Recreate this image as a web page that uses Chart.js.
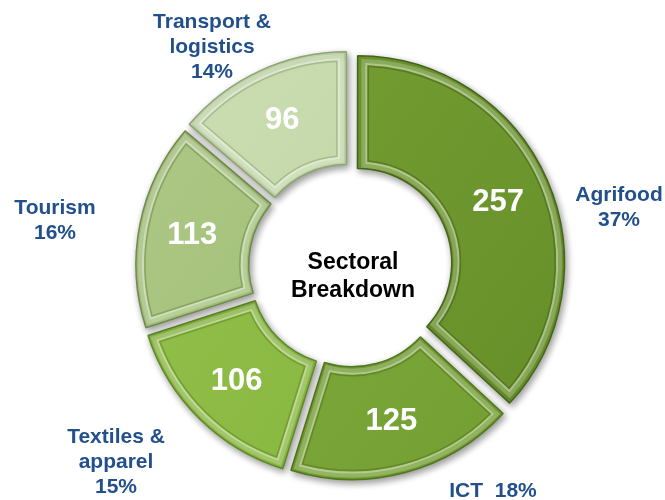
<!DOCTYPE html>
<html>
<head>
<meta charset="utf-8">
<title>Sectoral Breakdown</title>
<script src="https://cdn.jsdelivr.net/npm/chart.js@4"></script>
<style>
    html, body { margin: 0; padding: 0; background: #fff; }
    #wrap { width: 665px; height: 500px; }
</style>
</head>
<body>
<div id="wrap"><canvas id="myChart" width="665" height="500"></canvas></div>
<script>
"use strict";
// Data
const sectors = ["Agrifood", "ICT", "Textiles & apparel", "Tourism", "Transport & logistics"];
const counts = [257, 125, 106, 113, 96];
const shares = ["37%", "18%", "15%", "16%", "14%"];

// colours (light top, dark bottom, rim)
const lightColors = ['#7aa536', '#86b240', '#98c650', '#b2cd8b', '#d0e2ba'];
const darkColors = ['#628a27', '#6f9a30', '#80af38', '#95b46a', '#b5cc96'];
const rimColors = ['#45631a', '#52761f', '#5f8924', '#6f8b4a', '#8ca672'];

const FONT = '"Liberation Sans", Arial, sans-serif';

// outer label text blocks [lines, x, y]
const outerLabels = [
    [["Agrifood", "37%"], 619, 195],
    [["ICT  18%"], 493, 491],
    [["Textiles &", "apparel", "15%"], 116, 437],
    [["Tourism", "16%"], 55, 208],
    [["Transport &", "logistics", "14%"], 212, 22]
];

function arcShift(arc) {
    const p = arc.getProps(['startAngle', 'endAngle', 'circumference']);
    const off = (arc.options.offset || 0) / 4;
    const fix = 1 - Math.sin(Math.min(Math.PI, p.circumference || 0));
    const mid = (p.startAngle + p.endAngle) / 2;
    const d = off * (1 + fix);
    return { dx: Math.cos(mid) * d, dy: Math.sin(mid) * d, mid: mid, d: d };
}

function insetPath(ctx, a, inset) {
    const ro = a.outerRadius - inset;
    const ri = a.innerRadius + inset;
    ctx.beginPath();
    ctx.arc(a.x, a.y, ro, a.startAngle + inset / ro, a.endAngle - inset / ro);
    ctx.arc(a.x, a.y, ri, a.endAngle - inset / ri, a.startAngle + inset / ri, true);
    ctx.closePath();
}

// shadow + bevel + texts
const bevelPlugin = {
    id: 'bevel',
    beforeDatasetsDraw(chart) {
        const ctx = chart.ctx;
        ctx.save();
        ctx.shadowColor = 'rgba(0,0,0,0.4)';
        ctx.shadowBlur = 7;
        ctx.shadowOffsetX = 2;
        ctx.shadowOffsetY = 3;
    },
    afterDatasetsDraw(chart) {
        const ctx = chart.ctx;
        ctx.restore();
        const meta = chart.getDatasetMeta(0);
        meta.data.forEach((arc, i) => {
            const a = arc.getProps(['x', 'y', 'startAngle', 'endAngle', 'innerRadius', 'outerRadius']);
            const s = arcShift(arc);
            ctx.save();
            ctx.translate(s.dx, s.dy);
            // light band of the bevel
            insetPath(ctx, a, 4);
            ctx.lineWidth = 4;
            ctx.strokeStyle = 'rgba(255,255,255,0.22)';
            ctx.stroke();
            // inner ridge
            insetPath(ctx, a, 7);
            ctx.lineWidth = 2;
            ctx.strokeStyle = 'rgba(255,255,255,0.45)';
            ctx.stroke();
            insetPath(ctx, a, 9);
            ctx.lineWidth = 1.5;
            ctx.strokeStyle = rimColors[i];
            ctx.globalAlpha = 0.55;
            ctx.stroke();
            ctx.restore();

            // value
            const r = (a.innerRadius + a.outerRadius) / 2 + s.d + 3;
            ctx.save();
            ctx.fillStyle = '#ffffff';
            ctx.font = 'bold 31px ' + FONT;
            ctx.textAlign = 'center';
            ctx.textBaseline = 'middle';
            ctx.fillText(String(counts[i]), a.x + Math.cos(s.mid) * r, a.y + Math.sin(s.mid) * r + 1);
            ctx.restore();
        });

        // outer labels
        ctx.save();
        ctx.fillStyle = '#22508c';
        ctx.font = 'bold 21px ' + FONT;
        ctx.textAlign = 'center';
        ctx.textBaseline = 'middle';
        outerLabels.forEach(([lines, x, y]) => {
            lines.forEach((t, k) => ctx.fillText(t, x, y + k * 25));
        });

        // centre title
        ctx.fillStyle = '#000000';
        ctx.font = 'bold 23px ' + FONT;
        ctx.fillText('Sectoral', 353, 263);
        ctx.fillText('Breakdown', 353, 291);
        ctx.restore();
    }
};

function sliceGradient(context) {
    const chart = context.chart;
    const area = chart.chartArea;
    const i = context.dataIndex;
    if (!area) return lightColors[i];
    const g = chart.ctx.createLinearGradient(area.left, area.top, area.right, area.bottom);
    g.addColorStop(0, lightColors[i]);
    g.addColorStop(1, darkColors[i]);
    return g;
}

const data = {
    labels: sectors,
    datasets: [{
        label: 'Sectoral Breakdown',
        data: counts,
        backgroundColor: sliceGradient,
        borderColor: rimColors,
        borderWidth: 1.5,
        offset: 32
    }]
};

const config = {
    type: 'doughnut',
    data: data,
    options: {
        responsive: false,
        animation: false,
        radius: 205,
        cutout: '45%',
        layout: { padding: { left: 35, right: 0, top: 32, bottom: 0 } },
        plugins: {
            legend: { display: false },
            tooltip: { enabled: false }
        }
    },
    plugins: [bevelPlugin]
};

const myChart = new Chart(document.getElementById('myChart'), config);
</script>
</body>
</html>
